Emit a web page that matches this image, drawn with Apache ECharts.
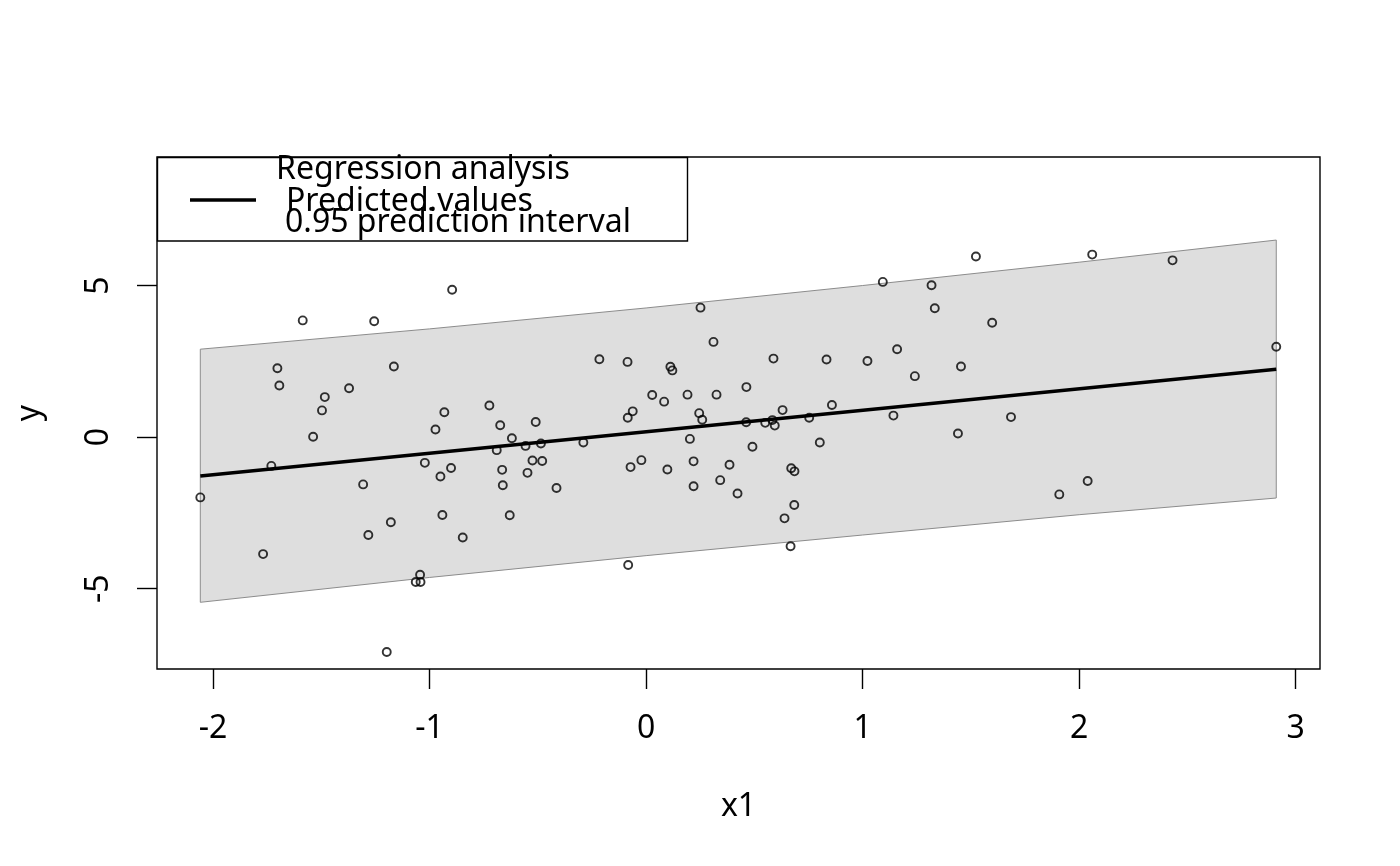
<!DOCTYPE html>
<html>
<head>
<meta charset="utf-8">
<script src="https://cdn.jsdelivr.net/npm/echarts@6/dist/echarts.min.js"></script>
<style>
  html, body { margin: 0; padding: 0; background: #fff; }
  #chart { width: 1400px; height: 866px; }
</style>
</head>
<body>
<div id="chart"></div>
<script>
// observed points
const x1Values = [
  -0.896, -1.586, -1.256, -1.703, -1.694, -1.165, -1.484, -1.497, -1.372, -1.538,
  -0.932, -0.973, -1.731, -2.059, -1.022, -0.950, -0.901, -1.307, -0.941, -1.179,
  -1.283, -1.769, -1.044, -1.064, -1.042, -1.198, 0.251, 0.311, -0.216, -0.086,
  0.112, 0.121, 0.028, 0.083, 0.191, 0.325, -0.724, -0.674, -0.510, -0.620,
  -0.557, -0.486, -0.290, -0.085, -0.062, 0.245, 0.259, 0.202, -0.690, -0.665,
  -0.662, -0.525, -0.480, -0.548, -0.414, -0.072, -0.022, 0.098, 0.219, 0.219,
  0.385, 0.342, 0.422, -0.630, -0.847, -0.083, 1.523, 1.093, 1.318, 1.333,
  1.598, 0.588, 0.833, 1.022, 1.159, 1.241, 1.454, 0.463, 0.630, 0.858,
  0.462, 0.550, 0.583, 0.594, 0.753, 1.142, 1.685, 1.440, 0.491, 0.802,
  0.670, 0.685, 0.684, 0.639, 0.667, 2.060, 2.431, 2.910, 2.039, 1.908
]
const yValues = [
  4.86, 3.85, 3.82, 2.27, 1.70, 2.33, 1.32, 0.88, 1.61, 0.01,
  0.82, 0.25, -0.95, -1.99, -0.85, -1.30, -1.02, -1.56, -2.57, -2.81,
  -3.23, -3.86, -4.54, -4.78, -4.78, -7.09, 4.27, 3.14, 2.57, 2.48,
  2.32, 2.20, 1.39, 1.17, 1.40, 1.40, 1.04, 0.39, 0.50, -0.04,
  -0.29, -0.21, -0.18, 0.64, 0.85, 0.79, 0.57, -0.06, -0.43, -1.08,
  -1.59, -0.77, -0.79, -1.18, -1.68, -0.99, -0.76, -1.07, -0.80, -1.62,
  -0.91, -1.42, -1.86, -2.58, -3.31, -4.22, 5.96, 5.12, 5.01, 4.25,
  3.77, 2.59, 2.56, 2.51, 2.90, 2.01, 2.33, 1.65, 0.89, 1.06,
  0.49, 0.47, 0.56, 0.38, 0.64, 0.71, 0.66, 0.12, -0.32, -0.18,
  -1.03, -1.13, -2.24, -2.68, -3.60, 6.02, 5.83, 2.98, -1.45, -1.89
]

// fitted line
const fitX = [-2.059, 2.910]
const fitY = [-1.28, 2.24]

// 0.95 prediction band
const bandX = [-2.059, -1, 0, 1, 2, 2.910]
const bandLower = [-5.45, -4.63, -3.91, -3.23, -2.56, -2.01]
const bandUpper = [2.90, 3.57, 4.26, 5.00, 5.77, 6.50]

// axis ticks
const xTicks = [-2, -1, 0, 1, 2, 3]
const yTicks = [-5, 0, 5]

const FONT = '"Noto Sans", "Open Sans", sans-serif'
const FS = 32

const chart = echarts.init(document.getElementById('chart'), null, { renderer: 'canvas' })

const option = {
  animation: false,
  backgroundColor: '#fff',
  textStyle: { fontFamily: FONT },
  grid: {
    left: 157,
    top: 157,
    width: 1163,
    height: 512,
    show: true,
    borderColor: '#000',
    borderWidth: 1.4,
    backgroundColor: 'transparent'
  },
  xAxis: {
    type: 'value',
    min: -2.259,
    max: 3.112,
    name: 'x1',
    nameLocation: 'middle',
    nameGap: 122,
    nameTextStyle: { color: '#000', fontSize: FS, fontFamily: FONT },
    axisLine: { show: false, onZero: false },
    splitLine: { show: false },
    axisTick: {
      show: true,
      length: 20,
      customValues: xTicks,
      lineStyle: { color: '#000', width: 1.4 }
    },
    axisLabel: {
      customValues: xTicks,
      margin: 44,
      color: '#000',
      fontSize: FS,
      fontFamily: FONT
    }
  },
  yAxis: {
    type: 'value',
    min: -7.65,
    max: 9.24,
    name: 'y',
    nameLocation: 'middle',
    nameGap: 111,
    nameTextStyle: { color: '#000', fontSize: FS, fontFamily: FONT },
    axisLine: { show: false, onZero: false },
    splitLine: { show: false },
    axisTick: {
      show: true,
      length: 20,
      customValues: yTicks,
      lineStyle: { color: '#000', width: 1.4 }
    },
    axisLabel: {
      customValues: yTicks,
      rotate: 90,
      margin: 42,
      color: '#000',
      fontSize: FS,
      fontFamily: FONT
    }
  },
  graphic: [
    {
      type: 'rect',
      shape: { x: 157.5, y: 157.5, width: 530, height: 83.5 },
      style: { fill: '#fff', stroke: '#000', lineWidth: 1.4 },
      z: 100
    },
    {
      type: 'line',
      shape: { x1: 190, y1: 200, x2: 256, y2: 200 },
      style: { stroke: '#000', lineWidth: 3.5 },
      z: 101
    },
    {
      type: 'text',
      x: 423,
      y: 170,
      style: {
        text: 'Regression analysis',
        fill: '#000',
        font: FS + 'px ' + FONT,
        align: 'center',
        verticalAlign: 'middle'
      },
      z: 101
    },
    {
      type: 'text',
      x: 286,
      y: 202,
      style: {
        text: 'Predicted.values',
        fill: '#000',
        font: FS + 'px ' + FONT,
        align: 'left',
        verticalAlign: 'middle'
      },
      z: 101
    },
    {
      type: 'text',
      x: 285,
      y: 223,
      style: {
        text: '0.95 prediction interval',
        fill: '#000',
        font: FS + 'px ' + FONT,
        align: 'left',
        verticalAlign: 'middle'
      },
      z: 101
    }
  ],
  series: [
    {
      name: 'band',
      type: 'custom',
      z: 1,
      silent: true,
      data: bandX.map((x, i) => [x, bandLower[i], bandUpper[i]]),
      encode: { x: 0, y: [1, 2] },
      renderItem(params, api) {
        if (params.dataIndex !== 0) return
        const upper = bandX.map((x, i) => api.coord([x, bandUpper[i]]))
        const lower = bandX.map((x, i) => api.coord([x, bandLower[i]])).reverse()
        return {
          type: 'polygon',
          shape: { points: upper.concat(lower) },
          style: { fill: '#dedede', stroke: '#8c8c8c', lineWidth: 1 }
        }
      }
    },
    {
      name: 'points',
      type: 'scatter',
      z: 3,
      symbol: 'circle',
      symbolSize: 8,
      data: x1Values.map((x, i) => [x, yValues[i]]),
      itemStyle: {
        color: 'rgba(0,0,0,0)',
        borderColor: '#000',
        borderWidth: 1.9
      }
    },
    {
      name: 'Predicted.values',
      type: 'line',
      z: 4,
      showSymbol: false,
      data: fitX.map((x, i) => [x, fitY[i]]),
      lineStyle: { color: '#000', width: 3.5 }
    }
  ]
}

chart.setOption(option)
</script>
</body>
</html>
